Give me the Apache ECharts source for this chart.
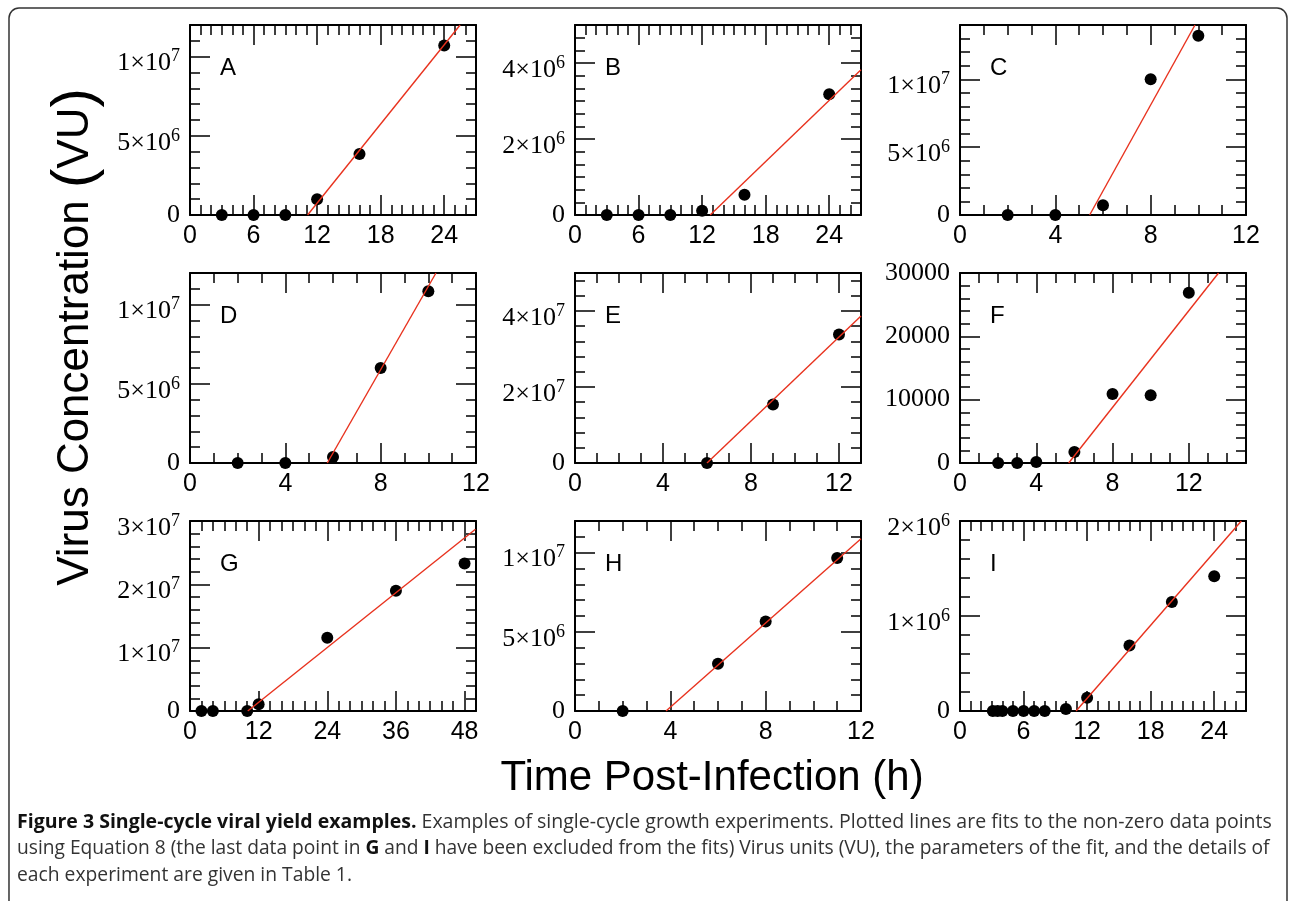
<!DOCTYPE html>
<html><head><meta charset="utf-8">
<script src="https://cdn.jsdelivr.net/npm/echarts@6/dist/echarts.min.js"></script>
<style>html,body{margin:0;padding:0;background:#fff}#c{width:1290px;height:901px}</style>
</head><body><div id="c"></div>
<script>
// ---------- data ----------
const panelNames = ['A','B','C','D','E','F','G','H','I'];

const timeA = [3, 6, 9, 12, 16, 24];
const virusA = [0, 0, 0, 1.0e6, 3.85e6, 1.07e7];
const fitA = [[11.1, 0], [25.5, 1.2e7]];

const timeB = [3, 6, 9, 12, 16, 24];
const virusB = [0, 0, 0, 1.1e5, 5.3e5, 3.18e6];
const fitB = [[12.76, 0], [27, 3.82e6]];

const timeC = [2, 4, 6, 8, 10];
const virusC = [0, 0, 7.2e5, 1.0e7, 1.32e7];
const fitC = [[5.44, 0], [9.86, 1.4e7]];

const timeD = [2, 4, 6, 8, 10];
const virusD = [0, 0, 3.8e5, 6.0e6, 1.085e7];
const fitD = [[5.76, 0], [10.32, 1.2e7]];

const timeE = [6, 9, 12];
const virusE = [0, 1.54e7, 3.38e7];
const fitE = [[6.0, 0], [13, 3.87e7]];

const timeF = [2, 3, 4, 6, 8, 10, 12];
const virusF = [0, 0, 150, 1740, 10900, 10700, 26900];
const fitF = [[5.7, 0], [13.56, 30000]];

const timeG = [2, 4, 10, 12, 24, 36, 48];
const virusG = [0, 0, 0, 1.05e6, 1.156e7, 1.90e7, 2.33e7];
const fitG = [[10.1, 0], [49.9, 2.87e7]];

const timeH = [2, 6, 8, 11];
const virusH = [0, 2.98e6, 5.66e6, 9.67e6];
const fitH = [[3.82, 0], [12, 1.088e7]];

const timeI = [3.1, 3.55, 4, 5, 6, 7, 8, 10, 12, 16, 20, 24];
const virusI = [0, 0, 0, 0, 0, 0, 0, 2.1e4, 1.4e5, 6.9e5, 1.147e6, 1.418e6];
const fitI = [[10.96, 0], [26.56, 2e6]];

// axis ranges and tick steps (per panel A..I)
const xMax   = [27, 27, 12, 12, 13, 15, 50, 12, 27];
const xMajor = [6, 6, 4, 4, 4, 4, 12, 4, 6];
const xMinor = [1, 1, 1, 1, 1, 1, 2, 1, 1];
const yMax   = [1.2e7, 5e6, 1.4e7, 1.2e7, 5e7, 30000, 3e7, 1.2e7, 2e6];
const yMajor = [5e6, 2e6, 5e6, 5e6, 2e7, 10000, 1e7, 5e6, 1e6];
const yMinor = [1e6, 2e6 / 6, 1e6, 1e6, 4e6, 2000, 2e6, 1e6, 2e5];

// tick labels
const xTickLabels = [
  ['0','6','12','18','24'], ['0','6','12','18','24'], ['0','4','8','12'],
  ['0','4','8','12'], ['0','4','8','12'], ['0','4','8','12'],
  ['0','12','24','36','48'], ['0','4','8','12'], ['0','6','12','18','24']
];
const yTickLabels = [
  ['0','5×10^6','1×10^7'], ['0','2×10^6','4×10^6'], ['0','5×10^6','1×10^7'],
  ['0','5×10^6','1×10^7'], ['0','2×10^7','4×10^7'], ['0','10000','20000','30000'],
  ['0','1×10^7','2×10^7','3×10^7'], ['0','5×10^6','1×10^7'], ['0','1×10^6','2×10^6']
];

const times = [timeA, timeB, timeC, timeD, timeE, timeF, timeG, timeH, timeI];
const viruses = [virusA, virusB, virusC, virusD, virusE, virusF, virusG, virusH, virusI];
const fits = [fitA, fitB, fitC, fitD, fitE, fitF, fitG, fitH, fitI];

// ---------- layout ----------
const colLeft = [190, 575, 960];
const rowTop = [25, 273, 521];
const PW = 286, PH = 190;

const chart = echarts.init(document.getElementById('c'));

function labelFmt(labels, step) {
  return function (v) {
    const k = Math.round(v / step);
    if (k < 0 || k >= labels.length || Math.abs(v - k * step) > step * 1e-6) return '';
    const s = labels[k];
    if (s.indexOf('^') >= 0) {
      const p = s.split('^');
      return '{b|' + p[0] + '}{s|' + p[1] + '}';
    }
    return s;
  };
}

const grids = [], xAxes = [], yAxes = [], series = [], graphics = [];
const lineCol = '#000';
for (let i = 0; i < 9; i++) {
  const r = Math.floor(i / 3), c = i % 3;
  grids.push({ left: colLeft[c], top: rowTop[r], width: PW, height: PH, show: false });
  const xBase = { type: 'value', gridIndex: i, min: 0, max: xMax[i], splitLine: { show: false } };
  const yBase = { type: 'value', gridIndex: i, min: 0, max: yMax[i], splitLine: { show: false } };
  const xi0 = xAxes.length, yi0 = yAxes.length;
  xAxes.push(Object.assign({}, xBase, {
    position: 'bottom', interval: xMajor[i],
    axisLine: { show: true, onZero: false, lineStyle: { color: lineCol, width: 2 } },
    axisTick: { show: true, inside: true, length: 20, lineStyle: { color: lineCol, width: 1.5 } },
    axisLabel: { show: true, margin: 9, color: '#000', fontFamily: 'Liberation Sans', fontSize: 25,
      formatter: labelFmt(xTickLabels[i], xMajor[i]), showMinLabel: true, showMaxLabel: true, hideOverlap: false }
  }));
  xAxes.push(Object.assign({}, xBase, {
    position: 'bottom', interval: xMinor[i],
    axisLine: { show: false, onZero: false },
    axisTick: { show: true, inside: true, length: 10, lineStyle: { color: lineCol, width: 1.5 } },
    axisLabel: { show: false }
  }));
  xAxes.push(Object.assign({}, xBase, {
    position: 'top', interval: xMajor[i],
    axisLine: { show: true, onZero: false, lineStyle: { color: lineCol, width: 2 } },
    axisTick: { show: true, inside: true, length: 20, lineStyle: { color: lineCol, width: 1.5 } },
    axisLabel: { show: false }
  }));
  xAxes.push(Object.assign({}, xBase, {
    position: 'top', interval: xMinor[i],
    axisLine: { show: false, onZero: false },
    axisTick: { show: true, inside: true, length: 10, lineStyle: { color: lineCol, width: 1.5 } },
    axisLabel: { show: false }
  }));
  yAxes.push(Object.assign({}, yBase, {
    position: 'left', interval: yMajor[i],
    axisLine: { show: true, onZero: false, lineStyle: { color: lineCol, width: 2 } },
    axisTick: { show: true, inside: true, length: 20, lineStyle: { color: lineCol, width: 1.5 } },
    axisLabel: { show: true, margin: 10, color: '#000', fontFamily: 'Liberation Serif', fontSize: 26,
      formatter: labelFmt(yTickLabels[i], yMajor[i]), showMinLabel: true, showMaxLabel: true, hideOverlap: false,
      rich: {
        b: { fontFamily: 'Liberation Serif', fontSize: 26, lineHeight: 26, verticalAlign: 'bottom', color: '#000' },
        s: { fontFamily: 'Liberation Serif', fontSize: 18, lineHeight: 40, verticalAlign: 'middle', color: '#000' }
      } }
  }));
  yAxes.push(Object.assign({}, yBase, {
    position: 'left', interval: yMinor[i],
    axisLine: { show: false, onZero: false },
    axisTick: { show: true, inside: true, length: 10, lineStyle: { color: lineCol, width: 1.5 } },
    axisLabel: { show: false }
  }));
  yAxes.push(Object.assign({}, yBase, {
    position: 'right', interval: yMajor[i],
    axisLine: { show: true, onZero: false, lineStyle: { color: lineCol, width: 2 } },
    axisTick: { show: true, inside: true, length: 20, lineStyle: { color: lineCol, width: 1.5 } },
    axisLabel: { show: false }
  }));
  yAxes.push(Object.assign({}, yBase, {
    position: 'right', interval: yMinor[i],
    axisLine: { show: false, onZero: false },
    axisTick: { show: true, inside: true, length: 10, lineStyle: { color: lineCol, width: 1.5 } },
    axisLabel: { show: false }
  }));

  series.push({
    type: 'scatter', xAxisIndex: xi0, yAxisIndex: yi0,
    data: times[i].map((t, k) => [t, viruses[i][k]]),
    symbol: 'circle', symbolSize: 12, itemStyle: { color: '#000', opacity: 1 }, z: 3, silent: true
  });
  series.push({
    type: 'line', xAxisIndex: xi0, yAxisIndex: yi0, data: fits[i],
    showSymbol: false, symbol: 'none', lineStyle: { color: '#e8321e', width: 1.4 }, clip: true, z: 4, silent: true
  });

  graphics.push({
    type: 'text', left: colLeft[c] + 30, top: rowTop[r] + 31,
    style: { text: panelNames[i], fontFamily: 'Liberation Sans', fontSize: 24, fill: '#000' }
  });
}

// axis titles, frame and caption
graphics.push({
  type: 'text', x: 76, y: 337, rotation: Math.PI / 2,
  style: {
    text: '{t|Virus Concentration }{p|(}{t|VU}{p|)}', align: 'center', verticalAlign: 'middle',
    rich: {
      t: { fontFamily: 'Liberation Sans', fontSize: 44, fill: '#000', lineHeight: 60 },
      p: { fontFamily: 'Liberation Sans', fontSize: 58, fill: '#000', lineHeight: 60 }
    }
  }
});
graphics.push({
  type: 'text', x: 712, y: 778,
  style: { text: 'Time Post-Infection (h)', align: 'center', verticalAlign: 'middle',
    fontFamily: 'Liberation Sans', fontSize: 42, fill: '#000' }
});
graphics.push({
  type: 'rect', shape: { x: 9, y: 8, width: 1278, height: 910, r: 10 },
  style: { fill: 'none', stroke: '#333', lineWidth: 1.5 }, silent: true
});
function capRich(size) {
  return {
    bo: { fontFamily: 'Open Sans', fontWeight: 'bold', fontSize: size, fill: '#111' },
    n: { fontFamily: 'Open Sans', fontSize: size, fill: '#333' }
  };
}
graphics.push({
  type: 'text', x: 17, y: 822,
  style: { text: '{bo|Figure 3 Single-cycle viral yield examples.}{n| Examples of single-cycle growth experiments. Plotted lines are fits to the non-zero data points}',
    verticalAlign: 'middle', rich: capRich(19.5) }
});
graphics.push({
  type: 'text', x: 17, y: 849,
  style: { text: '{n|using Equation 8 (the last data point in }{bo|G}{n| and }{bo|I}{n| have been excluded from the fits) Virus units (VU), the parameters of the fit, and the details of}',
    verticalAlign: 'middle', rich: capRich(19.2) }
});
graphics.push({
  type: 'text', x: 17, y: 876,
  style: { text: '{n|each experiment are given in Table 1.}', verticalAlign: 'middle', rich: capRich(19.3) }
});

chart.setOption({
  animation: false,
  backgroundColor: '#fff',
  grid: grids, xAxis: xAxes, yAxis: yAxes, series: series, graphic: graphics
});
</script></body></html>
